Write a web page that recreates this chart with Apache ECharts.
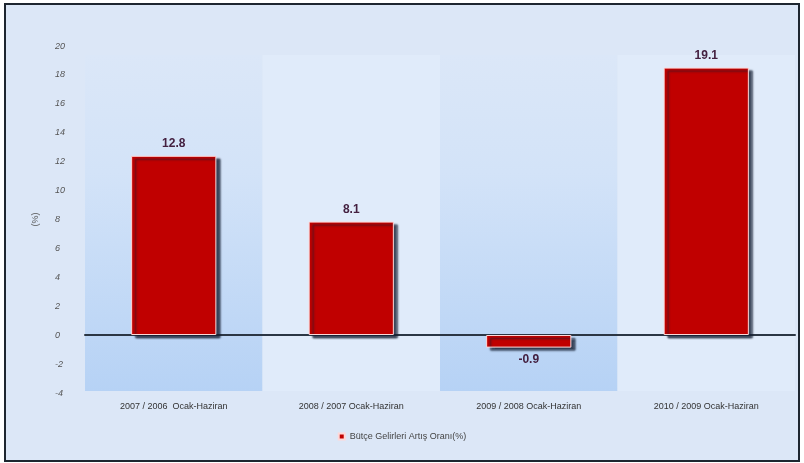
<!DOCTYPE html>
<html><head><meta charset="utf-8">
<script src="https://cdn.jsdelivr.net/npm/echarts@6/dist/echarts.min.js"></script>
<style>
html,body{margin:0;padding:0;background:#fff;}
#wrap{position:absolute;left:4px;top:3px;width:792px;height:455px;border:2px solid #1e2630;background:#dce7f7;}
#c{width:792px;height:455px;}
</style></head><body>
<div id="wrap"><div id="c"></div></div>
<script>
const categories = ["2007 / 2006  Ocak-Haziran","2008 / 2007 Ocak-Haziran","2009 / 2008 Ocak-Haziran","2010 / 2009 Ocak-Haziran"];
const values = [12.8, 8.1, -0.9, 19.1];
const valueLabels = ["12.8","8.1","-0.9","19.1"];
const seriesName = "Bütçe Gelirleri Artış Oranı(%)";

const chart = echarts.init(document.getElementById('c'));
const darkBand = new echarts.graphic.LinearGradient(0,0,0,1,[{offset:0,color:'#dbe7f8'},{offset:0.35,color:'#d3e3f8'},{offset:1,color:'#b6d2f5'}]);
chart.setOption({
  animation:false,
  grid:[{left:79,right:3,top:50,bottom:69},{left:79,right:3,top:41,bottom:67}],
  legend:{data:[seriesName],bottom:14,left:'center',itemWidth:6,itemHeight:6,icon:'rect',
    textStyle:{fontSize:9,color:'#444',fontFamily:'Liberation Sans'}},
  xAxis:[{type:'category',data:categories,gridIndex:0,
    axisLine:{onZero:true,lineStyle:{color:'#2b3644',width:2}},
    axisTick:{show:false},
    axisLabel:{fontSize:9,color:'#333',margin:11,fontFamily:'Liberation Sans'},
    splitArea:{show:true,areaStyle:{color:[darkBand,'#e0ebfa']}}},
    {type:'category',data:categories,gridIndex:1,show:false}],
  yAxis:[{type:'value',min:-4,max:20,interval:2,gridIndex:0,
    axisLine:{show:false},axisTick:{show:false},splitLine:{show:false},axisLabel:{show:false}},
    {type:'value',min:-4,max:20,interval:2,gridIndex:1,
    name:'(%)',nameLocation:'middle',nameGap:45,nameRotate:90,
    nameTextStyle:{fontSize:9,color:'#555'},
    axisLine:{show:false},axisTick:{show:false},splitLine:{show:false},
    axisLabel:{fontSize:9,color:'#555',fontStyle:'italic',margin:30,align:'left',fontFamily:'Liberation Sans'}}],
  series:[{name:seriesName,type:'bar',data:values,barWidth:'48%',xAxisIndex:0,yAxisIndex:0,
    itemStyle:{color:'#c00000',borderColor:'#ffd8d8',borderWidth:1,
      shadowColor:'rgba(20,30,50,0.8)',shadowOffsetX:4,shadowOffsetY:3,shadowBlur:2},
    label:{show:true,position:'outside',distance:6,fontSize:12,fontWeight:'bold',color:'#442040',
      fontFamily:'Liberation Sans',
      formatter:p=>valueLabels[p.dataIndex]}}]
});
</script></body></html>
